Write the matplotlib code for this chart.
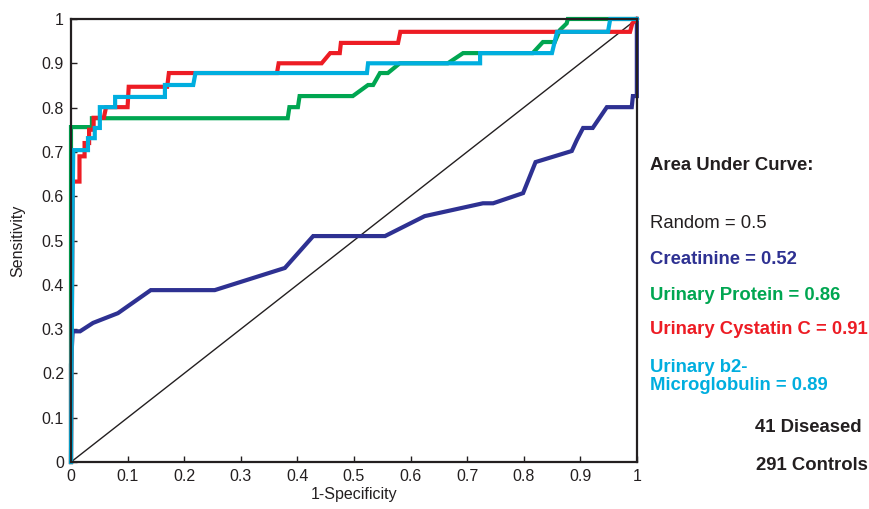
import numpy as np
import matplotlib.pyplot as plt

plt.rcParams['font.family'] = ['Liberation Sans', 'DejaVu Sans']

# ROC curves (1-specificity, sensitivity)
creat_x = [0, 0, 0.003, 0.016, 0.039, 0.083, 0.141, 0.254, 0.378, 0.428, 0.555, 0.625, 0.728,
           0.746, 0.799, 0.821, 0.885, 0.894, 0.905, 0.922, 0.947, 0.991, 0.993, 1.0, 1.0]
creat_y = [0, 0.22, 0.295, 0.295, 0.314, 0.336, 0.388, 0.388, 0.438, 0.51, 0.51, 0.555, 0.584,
           0.584, 0.607, 0.677, 0.702, 0.727, 0.754, 0.754, 0.801, 0.801, 0.826, 0.826, 1.0]

prot_x = [0, 0, 0.037, 0.037, 0.383, 0.386, 0.401, 0.404, 0.498, 0.525, 0.534, 0.546, 0.56,
          0.581, 0.666, 0.693, 0.816, 0.834, 0.855, 0.864, 0.876, 0.878, 1.0]
prot_y = [0, 0.756, 0.756, 0.776, 0.776, 0.801, 0.801, 0.826, 0.826, 0.851, 0.851, 0.878, 0.878,
          0.9, 0.9, 0.923, 0.923, 0.948, 0.948, 0.975, 0.99, 1.0, 1.0]

cyst_x = [0, 0.003, 0.015, 0.015, 0.024, 0.024, 0.032, 0.032, 0.04, 0.04, 0.058, 0.062, 0.1,
          0.102, 0.17, 0.173, 0.364, 0.367, 0.443, 0.458, 0.475, 0.477, 0.578, 0.582, 0.988,
          0.992, 1.0]
cyst_y = [0, 0.633, 0.633, 0.69, 0.69, 0.72, 0.72, 0.75, 0.75, 0.777, 0.777, 0.801, 0.801,
          0.847, 0.847, 0.878, 0.878, 0.9, 0.9, 0.923, 0.923, 0.946, 0.946, 0.971, 0.971,
          0.99, 1.0]

b2m_x = [0, 0.003, 0.004, 0.03, 0.03, 0.042, 0.042, 0.051, 0.051, 0.078, 0.078, 0.166, 0.166,
         0.216, 0.22, 0.523, 0.525, 0.723, 0.723, 0.85, 0.859, 0.949, 0.953, 1.0]
b2m_y = [0, 0.6, 0.704, 0.704, 0.731, 0.731, 0.754, 0.754, 0.801, 0.801, 0.824, 0.824, 0.851,
         0.851, 0.878, 0.878, 0.9, 0.9, 0.923, 0.923, 0.971, 0.971, 1.0, 1.0]

ticks = np.round(np.arange(0, 1.01, 0.1), 1)
tick_labels = ['0', '0.1', '0.2', '0.3', '0.4', '0.5', '0.6', '0.7', '0.8', '0.9', '1']

blue = '#2E3192'
green = '#00A651'
red = '#ED1C24'
cyan = '#00AEDF'
txt = '#231F20'

fig = plt.figure(figsize=(8.7, 5.09), dpi=100)
ax = fig.add_axes([0.0816, 0.0923, 0.6504, 0.8704])

ax.plot([0, 1], [0, 1], color=txt, lw=1.0)
lw = 3.0
ax.plot(creat_x, creat_y, color=blue, lw=lw, clip_on=False, solid_joinstyle='miter')
ax.plot(prot_x, prot_y, color=green, lw=lw, clip_on=False, solid_joinstyle='miter')
ax.plot(cyst_x, cyst_y, color=red, lw=lw, clip_on=False, solid_joinstyle='miter')
ax.plot(b2m_x, b2m_y, color=cyan, lw=lw, clip_on=False, solid_joinstyle='miter')

ax.set_xlim(0, 1)
ax.set_ylim(0, 1)
ax.set_xticks(ticks)
ax.set_xticklabels(tick_labels)
ax.set_yticks(ticks)
ax.set_yticklabels(tick_labels)
ax.tick_params(direction='in', length=4, width=1, labelsize=11.5, colors=txt, pad=5)
for s in ax.spines.values():
    s.set_linewidth(1.6)
    s.set_color(txt)

ax.set_xlabel('1-Specificity', fontsize=11.5, color=txt, labelpad=2)
ax.set_ylabel('Sensitivity', fontsize=11.5, color=txt, labelpad=12)

# area under curve notes on the right
def note(x, y, s, color=txt, weight='bold', ha='left'):
    fig.text(x / 870, 1 - y / 509, s, color=color, fontsize=13.3, fontweight=weight,
             ha=ha, va='center')

note(650, 165, 'Area Under Curve:')
note(650, 224, 'Random = 0.5', weight='normal')
note(650, 259, 'Creatinine = 0.52', color=blue)
note(650, 296, 'Urinary Protein = 0.86', color=green)
note(650, 330, 'Urinary Cystatin C = 0.91', color=red)
note(650, 367, 'Urinary b2-', color=cyan)
note(650, 386, 'Microglobulin = 0.89', color=cyan)
note(862, 427, '41 Diseased', ha='right')
note(868, 465, '291 Controls', ha='right')

fig.savefig('out.png', dpi=100)
